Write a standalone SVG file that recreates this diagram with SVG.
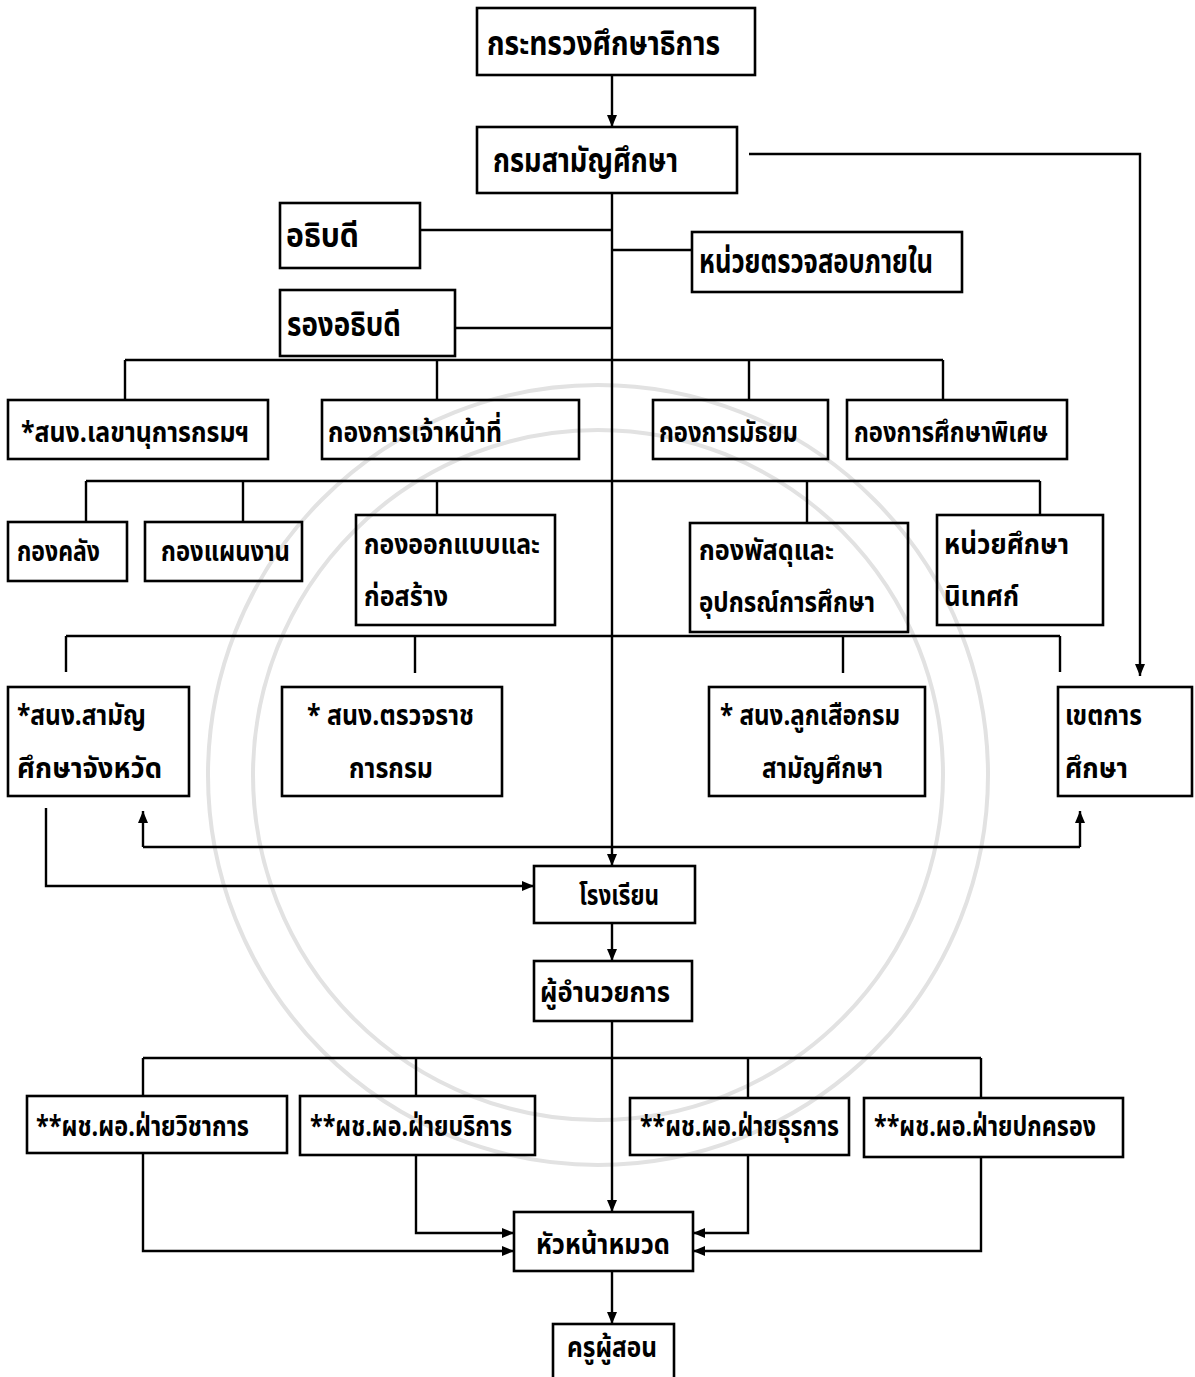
<svg xmlns="http://www.w3.org/2000/svg" width="1195" height="1377" viewBox="0 0 1195 1377">
<style>
.bx{fill:none;stroke:#000;stroke-width:2.6}
.ln{fill:none;stroke:#000;stroke-width:2.4}
.t{font-family:"Noto Sans Thai","Noto Sans","DejaVu Sans",sans-serif;font-weight:bold;font-size:29px;fill:#000}
.tl{font-size:33px}
.wm{fill:none;stroke:#e2e2e2;stroke-width:4}
</style>
<defs>
<marker id="ah" markerUnits="userSpaceOnUse" markerWidth="12" markerHeight="10" refX="12" refY="5" orient="auto">
<path d="M0,0 L12,5 L0,10 z" fill="#000"/>
</marker>
</defs>
<rect width="1195" height="1377" fill="#fff"/>
<g id="watermark">
<circle class="wm" cx="598" cy="775" r="390"/>
<circle class="wm" cx="598" cy="775" r="345"/>
</g>
<g id="connectors">
<path class="ln" d="M612,75 V127" marker-end="url(#ah)"/>
<path class="ln" d="M749,154 H1140 V676" marker-end="url(#ah)"/>
<path class="ln" d="M612,193 V866" marker-end="url(#ah)"/>
<path class="ln" d="M420,230 H612"/>
<path class="ln" d="M612,250 H692"/>
<path class="ln" d="M455,328 H612"/>
<path class="ln" d="M125,360 H943 M125,360 V400 M437,360 V400 M749,360 V400 M943,360 V400"/>
<path class="ln" d="M86,481 H1040 M86,481 V522 M243,481 V522 M437,481 V515 M807,481 V523 M1040,481 V515"/>
<path class="ln" d="M66,636 H1060 M66,636 V672 M415,636 V673 M843,636 V673 M1060,636 V672"/>
<path class="ln" d="M46,808 V886 H534" marker-end="url(#ah)"/>
<path class="ln" d="M143,847 H1080"/>
<path class="ln" d="M143,847 V811" marker-end="url(#ah)"/>
<path class="ln" d="M1080,847 V811" marker-end="url(#ah)"/>
<path class="ln" d="M612,923 V961" marker-end="url(#ah)"/>
<path class="ln" d="M612,1021 V1212" marker-end="url(#ah)"/>
<path class="ln" d="M143,1058 H981 M143,1058 V1096 M416,1058 V1096 M748,1058 V1098 M981,1058 V1098"/>
<path class="ln" d="M143,1153 V1251 H514" marker-end="url(#ah)"/>
<path class="ln" d="M416,1155 V1233 H514" marker-end="url(#ah)"/>
<path class="ln" d="M748,1155 V1233 H693" marker-end="url(#ah)"/>
<path class="ln" d="M981,1157 V1251 H693" marker-end="url(#ah)"/>
<path class="ln" d="M612,1271 V1324" marker-end="url(#ah)"/>
</g>
<g id="n1"><rect class="bx" x="477" y="8" width="278" height="67"/><text class="t tl" x="487" y="55" textLength="233" lengthAdjust="spacingAndGlyphs">กระทรวงศึกษาธิการ</text></g>
<g id="n2"><rect class="bx" x="477" y="127" width="260" height="66"/><text class="t tl" x="493" y="172" textLength="185" lengthAdjust="spacingAndGlyphs">กรมสามัญศึกษา</text></g>
<g id="n3"><rect class="bx" x="280" y="203" width="140" height="65"/><text class="t tl" x="286" y="247" textLength="73" lengthAdjust="spacingAndGlyphs">อธิบดี</text></g>
<g id="n4"><rect class="bx" x="692" y="232" width="270" height="60"/><text class="t tl" x="699" y="273" textLength="234" lengthAdjust="spacingAndGlyphs">หน่วยตรวจสอบภายใน</text></g>
<g id="n5"><rect class="bx" x="280" y="290" width="175" height="66"/><text class="t tl" x="287" y="336" textLength="114" lengthAdjust="spacingAndGlyphs">รองอธิบดี</text></g>
<g id="n6"><rect class="bx" x="8" y="400" width="260" height="59"/><text class="t" x="21" y="442" textLength="228" lengthAdjust="spacingAndGlyphs">*สนง.เลขานุการกรมฯ</text></g>
<g id="n7"><rect class="bx" x="322" y="400" width="257" height="59"/><text class="t" x="328" y="442" textLength="174" lengthAdjust="spacingAndGlyphs">กองการเจ้าหน้าที่</text></g>
<g id="n8"><rect class="bx" x="653" y="400" width="175" height="59"/><text class="t" x="659" y="442" textLength="139" lengthAdjust="spacingAndGlyphs">กองการมัธยม</text></g>
<g id="n9"><rect class="bx" x="847" y="400" width="220" height="59"/><text class="t" x="854" y="442" textLength="194" lengthAdjust="spacingAndGlyphs">กองการศึกษาพิเศษ</text></g>
<g id="n10"><rect class="bx" x="8" y="522" width="119" height="59"/><text class="t" x="17" y="561" textLength="83" lengthAdjust="spacingAndGlyphs">กองคลัง</text></g>
<g id="n11"><rect class="bx" x="145" y="522" width="157" height="59"/><text class="t" x="161" y="561" textLength="129" lengthAdjust="spacingAndGlyphs">กองแผนงาน</text></g>
<g id="n12"><rect class="bx" x="356" y="515" width="199" height="110"/><text class="t" x="364" y="554" textLength="176" lengthAdjust="spacingAndGlyphs">กองออกแบบและ</text><text class="t" x="364" y="606" textLength="84" lengthAdjust="spacingAndGlyphs">ก่อสร้าง</text></g>
<g id="n13"><rect class="bx" x="690" y="523" width="218" height="109"/><text class="t" x="699" y="560" textLength="135" lengthAdjust="spacingAndGlyphs">กองพัสดุและ</text><text class="t" x="699" y="612" textLength="176" lengthAdjust="spacingAndGlyphs">อุปกรณ์การศึกษา</text></g>
<g id="n14"><rect class="bx" x="937" y="515" width="166" height="110"/><text class="t" x="944" y="554" textLength="125" lengthAdjust="spacingAndGlyphs">หน่วยศึกษา</text><text class="t" x="944" y="606" textLength="75" lengthAdjust="spacingAndGlyphs">นิเทศก์</text></g>
<g id="n15"><rect class="bx" x="8" y="687" width="181" height="109"/><text class="t" x="17" y="725" textLength="129" lengthAdjust="spacingAndGlyphs">*สนง.สามัญ</text><text class="t" x="17" y="778" textLength="145" lengthAdjust="spacingAndGlyphs">ศึกษาจังหวัด</text></g>
<g id="n16"><rect class="bx" x="282" y="687" width="220" height="109"/><text class="t" x="307" y="725" textLength="167" lengthAdjust="spacingAndGlyphs">* สนง.ตรวจราช</text><text class="t" x="349" y="778" textLength="84" lengthAdjust="spacingAndGlyphs">การกรม</text></g>
<g id="n17"><rect class="bx" x="709" y="687" width="216" height="109"/><text class="t" x="720" y="725" textLength="180" lengthAdjust="spacingAndGlyphs">* สนง.ลูกเสือกรม</text><text class="t" x="762" y="778" textLength="121" lengthAdjust="spacingAndGlyphs">สามัญศึกษา</text></g>
<g id="n18"><rect class="bx" x="1058" y="687" width="134" height="109"/><text class="t" x="1065" y="725" textLength="77" lengthAdjust="spacingAndGlyphs">เขตการ</text><text class="t" x="1065" y="778" textLength="63" lengthAdjust="spacingAndGlyphs">ศึกษา</text></g>
<g id="n19"><rect class="bx" x="534" y="866" width="161" height="57"/><text class="t" x="579" y="905" textLength="80" lengthAdjust="spacingAndGlyphs">โรงเรียน</text></g>
<g id="n20"><rect class="bx" x="534" y="961" width="158" height="60"/><text class="t" x="540" y="1002" textLength="130" lengthAdjust="spacingAndGlyphs">ผู้อำนวยการ</text></g>
<g id="n21"><rect class="bx" x="27" y="1096" width="260" height="57"/><text class="t" x="36" y="1136" textLength="213" lengthAdjust="spacingAndGlyphs">**ผช.ผอ.ฝ่ายวิชาการ</text></g>
<g id="n22"><rect class="bx" x="300" y="1096" width="235" height="59"/><text class="t" x="310" y="1136" textLength="202" lengthAdjust="spacingAndGlyphs">**ผช.ผอ.ฝ่ายบริการ</text></g>
<g id="n23"><rect class="bx" x="630" y="1098" width="219" height="57"/><text class="t" x="640" y="1136" textLength="199" lengthAdjust="spacingAndGlyphs">**ผช.ผอ.ฝ่ายธุรการ</text></g>
<g id="n24"><rect class="bx" x="864" y="1098" width="259" height="59"/><text class="t" x="874" y="1136" textLength="222" lengthAdjust="spacingAndGlyphs">**ผช.ผอ.ฝ่ายปกครอง</text></g>
<g id="n25"><rect class="bx" x="514" y="1212" width="179" height="59"/><text class="t" x="536" y="1254" textLength="134" lengthAdjust="spacingAndGlyphs">หัวหน้าหมวด</text></g>
<g id="n26"><rect class="bx" x="553" y="1324" width="121" height="56"/><text class="t" x="567" y="1357" textLength="90" lengthAdjust="spacingAndGlyphs">ครูผู้สอน</text></g>
</svg>
